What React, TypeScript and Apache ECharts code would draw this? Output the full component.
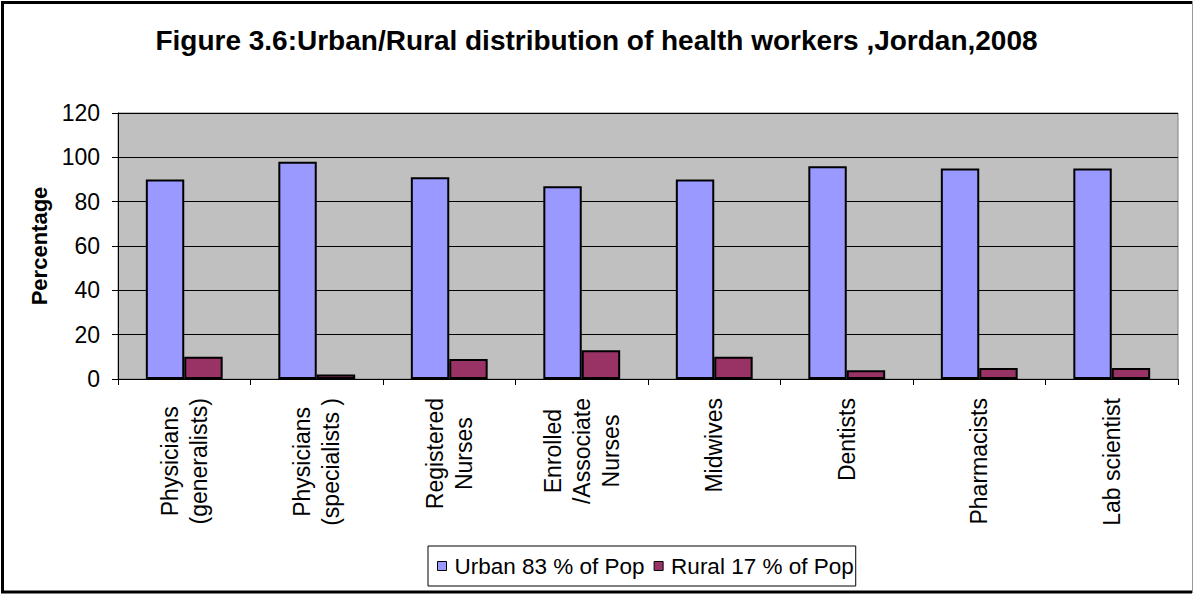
import { useEffect, useRef } from "react";
import * as echarts from "echarts";

const categories = [
  "Physicians\n(generalists)",
  "Physicians\n(specialists )",
  "Registered\nNurses",
  "Enrolled\n/Associate\nNurses",
  "Midwives",
  "Dentists",
  "Pharmacists",
  "Lab scientist",
];
const urbanValues = [90, 98, 91, 87, 90, 96, 95, 95];
const ruralValues = [10, 2, 9, 13, 10, 4, 5, 5];
const seriesNames = ["Urban 83 % of Pop", "Rural 17 % of Pop"];
const yMin = 0;
const yMax = 120;
const yStep = 20;
const titleText = "Figure 3.6:Urban/Rural distribution of health workers ,Jordan,2008";
const yAxisName = "Percentage";

const FONT = "'Liberation Sans', Arial, Helvetica, sans-serif";

export default function App() {
  const ref = useRef<HTMLDivElement>(null);

  useEffect(() => {
    document.body.style.margin = "0";
    if (!ref.current) return;
    const chart = echarts.init(ref.current, null, { renderer: "svg" });
    chart.setOption({
      animation: false,
      backgroundColor: "#ffffff",
      textStyle: { fontFamily: FONT, color: "#000" },
      title: {
        text: titleText,
        left: "center",
        top: 26,
        padding: 0,
        textStyle: { fontFamily: FONT, fontSize: 28, fontWeight: "bold", color: "#000" },
      },
      legend: {
        left: 428,
        top: 546,
        orient: "horizontal",
        padding: [7, 2, 7, 9],
        itemWidth: 9,
        itemHeight: 9,
        itemGap: 9,
        icon: "rect",
        backgroundColor: "#fff",
        borderColor: "#000",
        borderWidth: 1,
        itemStyle: { borderColor: "#000", borderWidth: 1 },
        textStyle: {
          fontFamily: FONT,
          fontSize: 22.5,
          lineHeight: 26,
          color: "#000",
          padding: [0, 0, 0, 3],
        },
        data: seriesNames,
      },
      grid: {
        left: 118,
        top: 113,
        width: 1060,
        height: 266,
        show: true,
        backgroundColor: "#C0C0C0",
        borderColor: "#808080",
        borderWidth: 1,
        containLabel: false,
        outerBoundsMode: "none",
      },
      xAxis: {
        type: "category",
        data: categories,
        boundaryGap: true,
        axisLine: { show: true, lineStyle: { color: "#000", width: 1 } },
        axisTick: { show: true, length: 6, alignWithLabel: false, lineStyle: { color: "#000" } },
        splitLine: { show: false },
        axisLabel: {
          interval: 0,
          rotate: 90,
          margin: 19,
          hideOverlap: false,
          formatter: (v: string) =>
            v
              .split("\n")
              .map((l) => `{c|${l}}`)
              .join("\n"),
          rich: {
            c: {
              align: "center",
              fontSize: 23,
              lineHeight: 29,
              fontFamily: FONT,
              color: "#000",
            },
          },
        },
      },
      yAxis: {
        type: "value",
        min: yMin,
        max: yMax,
        interval: yStep,
        name: yAxisName,
        nameLocation: "middle",
        nameRotate: 90,
        nameGap: 63,
        nameTextStyle: { fontFamily: FONT, fontSize: 22, fontWeight: "bold", color: "#000" },
        axisLine: { show: true, lineStyle: { color: "#000", width: 1 } },
        axisTick: { show: true, length: 6, inside: false, lineStyle: { color: "#000" } },
        splitLine: { show: true, lineStyle: { color: "#000", width: 1 } },
        axisLabel: { fontFamily: FONT, fontSize: 23, color: "#000", margin: 18 },
      },
      series: [
        {
          name: seriesNames[0],
          type: "bar",
          data: urbanValues,
          barGap: "0%",
          barCategoryGap: "42%",
          itemStyle: { color: "#9999FF", borderColor: "#000", borderWidth: 2 },
        },
        {
          name: seriesNames[1],
          type: "bar",
          data: ruralValues,
          barGap: "0%",
          barCategoryGap: "42%",
          itemStyle: { color: "#993366", borderColor: "#000", borderWidth: 2 },
        },
      ],
      graphic: [
        {
          type: "polyline",
          silent: true,
          shape: {
            points: [
              [1192, 2.5],
              [2.5, 2.5],
              [2.5, 592],
              [1192, 592],
            ],
          },
          style: { stroke: "#000", lineWidth: 3, fill: null },
        },
        {
          type: "line",
          silent: true,
          shape: { x1: 1192.5, y1: 1, x2: 1192.5, y2: 593 },
          style: { stroke: "#999", lineWidth: 1 },
        },
      ],
    });
    return () => chart.dispose();
  }, []);

  return <div ref={ref} style={{ width: 1193, height: 594 }} />;
}
